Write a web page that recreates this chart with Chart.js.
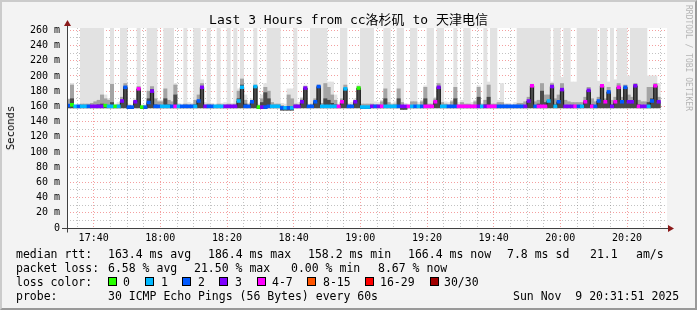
<!DOCTYPE html>
<html>
<head>
<meta charset="utf-8">
<title>Last 3 Hours from cc洛杉矶 to 天津电信</title>
<script src="https://cdn.jsdelivr.net/npm/chart.js@4.4.1/dist/chart.umd.min.js"></script>
<style>
  html, body { margin: 0; padding: 0; background: #f3f3f3; }
  #box { position: relative; width: 697px; height: 310px; overflow: hidden; background: #f3f3f3; }
  #box canvas { position: absolute; left: 0; top: 0; }
  #frame { position: absolute; left: 0; top: 0; width: 697px; height: 310px; box-sizing: border-box;
           border: 2px solid; border-color: #cbcbcb #999 #999 #cbcbcb; pointer-events: none; }
  .txt { position: absolute; font-family: "DejaVu Sans Mono", monospace; white-space: pre; color: #000;
         font-size: 11.5px; line-height: 12px; }
  .sw { position: absolute; width: 9px; height: 9px; border: 1px solid #000; box-sizing: border-box; }
  #title { position: absolute; left: 0; top: 12px; width: 697px; text-align: center; white-space: pre;
           font-family: "DejaVu Sans Mono", "Noto Sans CJK SC", monospace; font-size: 13px; line-height: 15px; }
  #ylab { position: absolute; left: 10px; top: 128px; transform: translate(-50%, -50%) rotate(-90deg);
          font-family: "DejaVu Sans Mono", monospace; font-size: 10.5px; }
  #rrd { position: absolute; left: 684px; top: 5px; writing-mode: vertical-rl; color: #b4b4b4;
         font-family: "DejaVu Sans Mono", monospace; font-size: 8px; white-space: pre; }
</style>
</head>
<body>
<div id="box">
  <canvas id="chart" width="697" height="310"></canvas>
  <div id="title">Last 3 Hours from cc洛杉矶 to 天津电信</div>
  <div id="ylab">Seconds</div>
  <div id="rrd">RRDTOOL / TOBI OETIKER</div>

  <div class="txt" style="left:16px;top:248px">median rtt:</div>
  <div class="txt" style="left:108px;top:248px">163.4 ms avg</div>
  <div class="txt" style="left:208px;top:248px">186.4 ms max</div>
  <div class="txt" style="left:308px;top:248px">158.2 ms min</div>
  <div class="txt" style="left:408px;top:248px">166.4 ms now</div>
  <div class="txt" style="left:507px;top:248px">7.8 ms sd</div>
  <div class="txt" style="left:590px;top:248px">21.1</div>
  <div class="txt" style="left:636px;top:248px">am/s</div>

  <div class="txt" style="left:16px;top:262px">packet loss:</div>
  <div class="txt" style="left:108px;top:262px">6.58 % avg</div>
  <div class="txt" style="left:194px;top:262px">21.50 % max</div>
  <div class="txt" style="left:291px;top:262px">0.00 % min</div>
  <div class="txt" style="left:378px;top:262px">8.67 % now</div>

  <div class="txt" style="left:16px;top:276px">loss color:</div>
  <div id="swatches"></div>

  <div class="txt" style="left:16px;top:290px">probe:</div>
  <div class="txt" style="left:108px;top:290px">30 ICMP Echo Pings (56 Bytes) every 60s</div>
  <div class="txt" style="left:513px;top:290px">Sun Nov  9 20:31:51 2025</div>

  <div id="frame"></div>
</div>
<script>
// one sample per minute, first one at 17:32
const startMinute = 17 * 60 + 32;

// median rtt (ms)
const median = [
  161,162,160,160,160,160,160,160,160,160,
  160,161,160,160,160,160,167,185,159,159,
  166,183,159,159,165,180,160,160,160,160,
  160,160,160,160,160,160,160,160,160,167,
  185,160,160,160,160,160,160,160,160,160,
  160,167,185,160,160,166,186,159,159,159,
  160,160,160,160,158,158,158,158,160,160,
  166,184,160,160,166,186,160,160,160,160,
  160,160,166,183,160,160,166,184,159,159,
  159,160,160,160,160,160,160,160,160,160,
  160,160,160,160,160,160,160,160,160,160,
  166,185,160,160,160,160,160,160,160,160,
  160,160,160,160,160,160,160,160,160,160,
  160,160,160,160,160,160,160,160,167,187,
  160,160,160,160,167,186,160,166,182,160,
  160,160,160,160,160,166,181,160,160,167,
  187,166,179,160,166,185,166,185,166,166,
  187,160,160,160,160,167,187,166
];

// loss colour class: 0, 1, 2, 3, 4-7, 8-15, 16-29, 30/30
const lossClass = [
  2,0,1,2,1,1,2,3,3,3,
  3,0,1,1,0,1,3,2,2,2,
  3,4,0,2,2,3,2,2,1,1,
  1,2,4,1,2,2,2,2,1,2,
  3,3,2,2,1,1,1,3,3,3,
  3,1,1,2,2,2,1,0,3,2,
  2,1,1,1,2,1,2,1,3,3,
  3,3,2,2,2,2,1,1,1,1,
  1,4,4,1,2,2,3,0,1,1,
  1,3,2,3,4,1,1,1,1,2,
  3,3,4,1,2,1,2,4,4,4,
  4,3,1,1,2,2,2,4,4,4,
  4,4,4,3,1,3,4,4,4,2,
  2,2,2,2,2,2,2,3,3,4,
  2,4,4,4,1,3,1,2,3,3,
  3,3,4,2,1,4,3,4,2,2,
  4,4,2,3,4,4,2,2,3,3,
  3,4,3,3,1,2,4,3
];

// smoke: lowest ping (ms)
const smokeLow = [
  158,158,158,158,158,158,158,158,158,158,
  158,158,158,158,158,158,158,158,157,157,
  158,158,157,157,158,158,158,158,158,158,
  158,158,158,158,158,158,158,158,158,158,
  158,158,158,158,158,158,158,158,158,158,
  158,158,158,158,158,158,158,157,157,157,
  158,158,158,158,155,155,155,155,158,158,
  158,158,158,158,158,158,158,158,158,158,
  158,158,158,158,158,158,158,158,157,157,
  157,158,158,158,158,158,158,158,158,158,
  156,156,158,158,158,158,158,158,158,158,
  158,158,158,158,158,158,158,158,158,158,
  158,158,158,158,158,158,158,158,158,158,
  158,158,158,158,158,158,158,158,158,158,
  158,158,158,158,158,158,158,158,158,158,
  158,158,158,158,158,158,158,158,158,158,
  158,158,158,158,158,158,158,158,158,158,
  158,158,158,158,158,158,158,158
];

// smoke: highest ping (ms), 270 = off the top
const smokeHigh = [
  170,190,162,163,270,270,270,270,270,270,
  270,175,170,270,163,165,270,270,163,162,
  170,270,162,162,270,270,270,168,168,270,
  270,270,190,164,163,270,165,164,270,270,
  195,165,270,164,163,270,164,165,270,164,
  270,183,270,175,164,170,270,163,175,190,
  270,270,270,270,164,163,183,183,270,165,
  172,188,163,270,270,270,270,270,192,192,
  175,163,270,270,164,165,170,188,270,270,
  270,270,166,165,168,270,270,164,166,270,
  270,164,163,270,270,165,168,187,270,270,
  172,270,270,166,165,168,270,165,168,270,
  270,165,168,187,164,270,192,270,270,168,
  190,164,164,163,165,270,270,270,270,270,
  270,270,270,270,270,192,270,270,198,270,
  270,192,192,270,270,270,270,270,270,193,
  270,270,192,270,195,270,270,270,200,270,
  270,270,270,270,200,200,200,190
];

// smoke: upper quartile (ms)
const smokeMid = [
  169,188,161,161,163,163,163,164,166,168,
  175,170,168,189,161,162,172,190,161,160,
  168,186,160,160,180,186,170,166,166,183,
  168,166,188,162,161,163,162,162,168,175,
  190,162,163,162,161,163,162,162,163,162,
  163,180,196,168,162,168,188,161,170,185,
  180,165,163,163,161,160,175,170,163,162,
  170,186,161,163,170,188,164,190,185,175,
  168,161,170,188,162,162,168,186,163,163,
  163,163,162,162,166,183,165,162,163,183,
  165,161,161,166,166,162,166,185,163,163,
  170,190,165,163,162,166,185,162,165,163,
  163,162,166,185,162,168,188,163,163,165,
  165,162,162,161,162,164,164,166,172,189,
  166,168,190,175,175,190,170,175,190,168,
  166,165,165,165,165,172,185,170,166,172,
  188,170,185,168,172,190,172,188,175,172,
  190,168,166,166,185,185,190,172
];

// smoke: dense core near the median (ms)
const smokeCore = [
  162,170,160,160,160,160,160,160,161,162,
  163,162,161,165,160,160,168,186,160,159,
  166,183,158,158,170,182,162,161,161,170,
  162,161,175,160,160,160,160,160,162,168,
  186,160,160,160,160,160,160,160,160,160,
  160,170,188,163,160,166,186,159,165,178,
  170,161,160,160,157,156,160,160,160,160,
  166,184,160,160,166,186,161,170,168,164,
  162,160,166,184,160,160,166,184,159,159,
  159,160,160,160,161,170,161,160,160,170,
  161,158,160,161,161,160,161,170,160,160,
  166,186,161,160,160,161,170,160,161,160,
  160,160,161,172,160,162,172,160,160,160,
  161,160,160,160,160,160,160,161,167,187,
  161,163,180,165,168,186,162,166,183,161,
  161,161,161,161,161,166,181,162,161,167,
  187,166,179,162,166,185,166,185,166,166,
  187,162,161,161,165,170,187,166
];

const lossColors = ['#26ff00', '#00b8ff', '#0059ff', '#7e00ff', '#ff00ff', '#ff5500', '#ff0000', '#a10000'];
const lossLabels = ['0', '1', '2', '3', '4-7', '8-15', '16-29', '30/30'];
const swatchX = [108, 145, 182, 219, 257, 307, 365, 430];
const labelX = [123, 161, 198, 235, 272, 323, 380, 444];

// legend swatches
const sw = document.getElementById('swatches');
lossColors.forEach((c, i) => {
  const b = document.createElement('div');
  b.className = 'sw';
  b.style.left = swatchX[i] + 'px';
  b.style.top = '277px';
  b.style.background = c;
  sw.appendChild(b);
  const t = document.createElement('div');
  t.className = 'txt';
  t.style.left = labelX[i] + 'px';
  t.style.top = '276px';
  t.textContent = lossLabels[i];
  sw.appendChild(t);
});

const xs = median.map((_, i) => startMinute + i + 0.5);
const band = (lo, hi) => xs.map((x, i) => ({ x: x, y: [lo[i], hi[i]] }));

function hhmm(v) {
  const h = Math.floor(v / 60), m = v % 60;
  return h + ':' + (m < 10 ? '0' : '') + m;
}

// white canvas behind the plot, axes and arrows on top
const plotDeco = {
  id: 'plotDeco',
  beforeDraw(chart) {
    const { ctx, chartArea: a } = chart;
    ctx.save();
    ctx.fillStyle = '#ffffff';
    ctx.fillRect(a.left, a.top, a.right - a.left, a.bottom - a.top);
    ctx.restore();
  },
  afterDraw(chart) {
    const { ctx, chartArea: a } = chart;
    const l = Math.round(a.left) + 0.5, b = Math.round(a.bottom) + 0.5;
    ctx.save();
    ctx.strokeStyle = '#404040';
    ctx.lineWidth = 1;
    ctx.beginPath();
    ctx.moveTo(l, b + 4); ctx.lineTo(l, a.top - 4);
    ctx.moveTo(a.left - 5, b); ctx.lineTo(a.right + 3, b);
    ctx.stroke();
    ctx.fillStyle = '#8b1a1a';
    ctx.beginPath();
    ctx.moveTo(l, a.top - 8); ctx.lineTo(l - 3.5, a.top - 2); ctx.lineTo(l + 3.5, a.top - 2);
    ctx.closePath(); ctx.fill();
    ctx.beginPath();
    ctx.moveTo(a.right + 7, b); ctx.lineTo(a.right + 1, b - 3.5); ctx.lineTo(a.right + 1, b + 3.5);
    ctx.closePath(); ctx.fill();
    ctx.restore();
  }
};

const barCommon = { grouped: false, barPercentage: 1, categoryPercentage: 1, borderWidth: 0, clip: 0 };

new Chart(document.getElementById('chart'), {
  type: 'bar',
  data: {
    datasets: [
      Object.assign({ label: 'smoke max', data: band(smokeLow, smokeHigh), backgroundColor: '#e2e2e2', order: 6 }, barCommon),
      Object.assign({ label: 'smoke mid', data: band(smokeLow, smokeMid), backgroundColor: '#a4a4a4', order: 5 }, barCommon),
      Object.assign({ label: 'smoke core', data: band(smokeLow, smokeCore), backgroundColor: '#4a4a4a', order: 4 }, barCommon),
      {
        type: 'line', label: 'median step', order: 2,
        data: xs.map((x, i) => ({ x: x, y: median[i] })),
        stepped: 'middle', borderColor: '#1a1a1a', borderWidth: 1, pointRadius: 0, fill: false
      },
      Object.assign({
        label: 'median', order: 1,
        data: xs.map((x, i) => ({ x: x, y: [median[i] - 1.9, median[i] + 1.9] })),
        backgroundColor: lossClass.map(c => lossColors[c])
      }, barCommon)
    ]
  },
  options: {
    responsive: false,
    animation: false,
    devicePixelRatio: 1,
    events: [],
    layout: { padding: { top: 28, right: 30, bottom: 0, left: 0 } },
    plugins: { legend: { display: false }, tooltip: { enabled: false }, title: { display: false } },
    scales: {
      x: {
        type: 'linear', min: startMinute, max: startMinute + 180, offset: false, z: 1,
        afterBuildTicks: s => {
          s.ticks = [];
          for (let v = 1055; v <= 1230; v += 5) s.ticks.push({ value: v });
        },
        afterFit: s => { s.height = 82; },
        ticks: {
          autoSkip: false, maxRotation: 0, padding: 4, color: '#000',
          font: { family: 'DejaVu Sans Mono', size: 10 },
          callback: v => (v % 20 === 0 ? hhmm(v) : '')
        },
        grid: {
          offset: false, drawTicks: false, lineWidth: 1,
          color: c => (c.tick.value % 20 === 0 ? 'rgba(235,80,80,0.55)' : 'rgba(120,120,120,0.45)')
        },
        border: { display: false, dash: [1, 2] }
      },
      y: {
        type: 'linear', min: 0, max: 263, z: 1,
        afterBuildTicks: s => {
          s.ticks = [];
          for (let v = 0; v <= 260; v += 10) s.ticks.push({ value: v });
        },
        afterFit: s => { s.width = 67; },
        ticks: {
          autoSkip: false, padding: 7, color: '#000',
          font: { family: 'DejaVu Sans Mono', size: 10 },
          callback: v => (v % 20 === 0 ? (v === 0 ? '0' : v + ' m') : '')
        },
        grid: {
          drawTicks: false, lineWidth: 1,
          color: c => (c.tick.value === 0 ? 'rgba(0,0,0,0)' :
                       c.tick.value % 20 === 0 ? 'rgba(235,80,80,0.55)' : 'rgba(120,120,120,0.45)')
        },
        border: { display: false, dash: [1, 2] }
      }
    }
  },
  plugins: [plotDeco]
});
</script>
</body>
</html>
